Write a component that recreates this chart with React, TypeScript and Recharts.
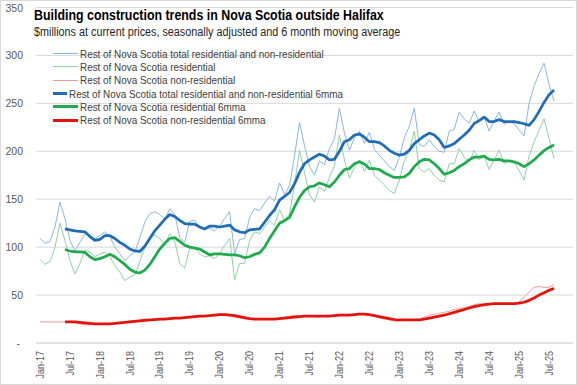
import { LineChart, Line, XAxis, YAxis, CartesianGrid, Legend } from "recharts";

// monthly, Jan-17 .. Aug-25 (index 0..103)
const tickLabels = [
  "Jan-17", "Jul-17", "Jan-18", "Jul-18", "Jan-19", "Jul-19", "Jan-20", "Jul-20", "Jan-21",
  "Jul-21", "Jan-22", "Jul-22", "Jan-23", "Jul-23", "Jan-24", "Jul-24", "Jan-25", "Jul-25",
];
const xTicks = tickLabels.map((_, k) => k * 6);
const yTicks = [0, 50, 100, 150, 200, 250, 300, 350];

const total = [
  109, 104, 106, 121, 147, 130, 107, 96, 105, 114, 112, 109,
  112, 116, 111, 100, 93, 86, 91, 95, 110, 126, 135, 137,
  134, 129, 140, 134, 110, 105, 127, 128, 120, 118, 120, 117,
  122, 130, 137, 93, 108, 109, 131, 140, 138, 146, 153, 148,
  167, 155, 164, 195, 230, 206, 184, 175, 190, 186, 203, 213,
  245, 219, 201, 214, 221, 208, 220, 202, 196, 190, 184, 180,
  194, 214, 226, 245, 207, 205, 212, 205, 200, 199, 221, 223,
  241, 234, 229, 242, 231, 236, 221, 232, 241, 228, 231, 229,
  222, 216, 250, 268, 281, 292, 270, 252,
];

const residential = [
  87, 82, 85, 100, 125, 107, 86, 72, 83, 97, 95, 90,
  93, 95, 90, 81, 74, 65, 69, 71, 85, 100, 109, 113,
  109, 102, 114, 106, 83, 78, 99, 100, 93, 90, 91, 88,
  93, 102, 109, 66, 83, 83, 107, 116, 114, 121, 128, 123,
  139, 128, 135, 165, 201, 178, 155, 147, 163, 158, 173, 185,
  217, 191, 172, 183, 191, 179, 191, 175, 170, 165, 159, 156,
  170, 190, 201, 221, 182, 178, 182, 175, 170, 168, 187, 187,
  203, 194, 189, 201, 191, 195, 181, 191, 201, 187, 190, 188,
  180, 170, 195, 210, 222, 234, 213, 192,
];

const nonResidential = [
  22, 22, 22, 22, 22, 22, 22, 21, 20, 19, 19, 20,
  20, 20, 20, 21, 21, 22, 23, 23, 24, 25, 25, 25,
  25, 25, 25, 26, 26, 26, 27, 27, 28, 28, 29, 29,
  30, 30, 29, 27, 26, 25, 25, 25, 25, 25, 25, 25,
  26, 27, 28, 29, 28, 28, 28, 28, 27, 28, 29, 29,
  29, 29, 29, 30, 31, 30, 29, 28, 26, 25, 24, 23,
  23, 24, 24, 24, 25, 27, 29, 30, 31, 32, 33, 35,
  36, 37, 38, 40, 41, 40, 40, 41, 41, 42, 41, 41,
  43, 48, 53, 58, 59, 58, 58, 61,
];

const total6mma = [
  null, null, null, null, null, 119, 118, 117, 116.5, 116, 111, 107,
  108, 112, 112, 109, 105, 102, 98, 96, 95.5, 101, 109, 117,
  123, 129, 134, 132, 128, 124.5, 124, 124, 121, 119, 122, 122,
  121, 122, 123, 118, 116, 115, 118, 118.5, 119, 126, 133, 139,
  149, 153, 157, 166, 178, 187, 191, 194, 197, 195, 191, 191.6,
  200, 210, 212, 217, 218, 214.7, 210, 210, 209, 205.6, 201, 198,
  196, 197, 201, 208, 212, 216, 219, 217, 212, 204, 205.6, 208,
  212.6, 217, 222, 229, 232, 235.7, 231, 231, 233, 231, 231, 231,
  230, 228.7, 227, 233, 241.6, 251, 259, 264,
];

const residential6mma = [
  null, null, null, null, null, 97.5, 96, 95, 95, 94.5, 90, 87,
  88, 90, 92.5, 90, 86, 82, 77, 74, 73, 76, 82, 90,
  98, 104, 109, 110, 106, 102, 100, 99, 98, 95, 92, 93,
  93, 92.5, 92, 92, 91, 89, 90, 92.5, 94, 100, 109, 117,
  125, 127.6, 131, 142, 152, 159, 163, 164, 167, 165, 163, 168,
  175, 181, 182, 187, 189, 186.7, 182, 182, 181, 177.6, 175, 172.7,
  172.7, 173.4, 177, 184, 189, 191.6, 191, 187, 182, 176, 177.6, 180,
  184, 187, 191, 194, 194, 195, 191.6, 191, 191.6, 190, 190, 189,
  187, 184, 187, 191, 196, 200.7, 204, 206.6,
];

const nonResidential6mma = [
  null, null, null, null, null, 22, 22, 22, 21.5, 21, 20.5, 20,
  20, 20, 20, 20.5, 21, 21.5, 22, 22.5, 23, 23.5, 24, 24.5,
  25, 25, 25.5, 26, 26, 26.5, 27, 27.5, 28, 28, 28.5, 29,
  29.5, 29.5, 29, 28.5, 27.5, 26.5, 25.5, 25, 25, 25, 25, 25,
  25.5, 26, 26.5, 27, 27.5, 28, 28, 28, 28, 28, 28, 28.5,
  29, 29, 29, 29.5, 30, 30, 29.5, 28.5, 27.5, 26.5, 25.5, 24.5,
  24, 24, 24, 24, 24, 25, 26, 27, 28, 29, 30.5, 32,
  33.5, 35, 36.5, 38, 39, 40, 40.5, 41, 41, 41, 41, 41,
  41.5, 42.5, 44.5, 47, 50, 52.5, 55, 57,
];

const series = [
  { key: "total", name: "Rest of Nova Scotia total residential and non-residential", color: "#8ab6e0", width: 1 },
  { key: "res", name: "Rest of Nova Scotia residential", color: "#8ed3a2", width: 1 },
  { key: "nonres", name: "Rest of Nova Scotia non-residential", color: "#f29a9a", width: 1 },
  { key: "total6", name: "Rest of Nova Scotia total residential and non-residential 6mma", color: "#1f6db8", width: 2.75 },
  { key: "res6", name: "Rest of Nova Scotia residential 6mma", color: "#1faa4e", width: 2.75 },
  { key: "nonres6", name: "Rest of Nova Scotia non-residential 6mma", color: "#e3120b", width: 2.75 },
];

const data = total.map((v, i) => ({
  i,
  total: v,
  res: residential[i],
  nonres: nonResidential[i],
  total6: total6mma[i],
  res6: residential6mma[i],
  nonres6: nonResidential6mma[i],
}));

const FONT = "'Liberation Sans', Arial, sans-serif";

const XTick = (props: any) => {
  const { x, y, payload } = props;
  return (
    <text
      transform={`translate(${x},${y}) rotate(-90) scale(0.9,1)`}
      textAnchor="end"
      dominantBaseline="central"
      fontSize={10}
      fill="#595959"
      fontFamily={FONT}
    >
      {tickLabels[payload.value / 6]}
    </text>
  );
};

const YTick = (props: any) => {
  const { x, y, payload } = props;
  const zero = payload.value === 0;
  return (
    <text
      x={zero ? x - 3 : x}
      y={y}
      textAnchor="end"
      dominantBaseline="central"
      fontSize={10.5}
      fill="#595959"
      fontFamily={FONT}
    >
      {zero ? "-" : payload.value}
    </text>
  );
};

// legend rows kept in the series order (recharts would sort them)
const renderLegend = () => (
  <div style={{ fontFamily: FONT }}>
    {series.map((s) => (
      <div key={s.key} style={{ display: "flex", alignItems: "center", height: 13.3 }}>
        <div style={{ width: 25, height: s.width > 1 ? 3 : 1, background: s.color }} />
        <span
          style={{
            display: "inline-block",
            marginLeft: 2,
            fontSize: 11,
            color: "#404040",
            whiteSpace: "nowrap",
            transform: "scaleX(0.9)",
            transformOrigin: "left center",
          }}
        >
          {s.name}
        </span>
      </div>
    ))}
  </div>
);

export default function App() {
  return (
    <div style={{ position: "absolute", left: 0, top: 0, width: 577, height: 385, background: "#fff" }}>
      <LineChart width={577} height={385} data={data} margin={{ top: 7.5, right: 4, bottom: 0, left: 0 }}>
        <CartesianGrid vertical={false} stroke="#d9d9d9" />
        <XAxis
          dataKey="i"
          type="number"
          domain={[-0.8, 106.8]}
          allowDataOverflow
          ticks={xTicks}
          interval={0}
          height={42}
          tick={<XTick />}
          tickLine={false}
          axisLine={{ stroke: "#d9d9d9" }}
        />
        <YAxis
          width={36}
          domain={[0, 350]}
          ticks={yTicks}
          interval={0}
          tick={<YTick />}
          tickLine={false}
          axisLine={false}
          tickMargin={7}
        />
        <Legend
          layout="vertical"
          align="center"
          verticalAlign="middle"
          content={renderLegend}
          wrapperStyle={{ position: "absolute", left: 53, top: 47, width: 320, height: 80 }}
        />
        {series.map((s) => (
          <Line
            key={s.key}
            dataKey={s.key}
            name={s.name}
            stroke={s.color}
            strokeWidth={s.width}
            dot={false}
            activeDot={false}
            type="linear"
            strokeLinejoin="round"
            isAnimationActive={false}
          />
        ))}
      </LineChart>
      <div
        style={{
          position: "absolute",
          left: 34,
          top: 7,
          fontFamily: FONT,
          fontWeight: "bold",
          fontSize: 14,
          lineHeight: "16px",
          color: "#000",
          whiteSpace: "nowrap",
          transform: "scaleX(0.885)",
          transformOrigin: "left center",
        }}
      >
        Building construction trends in Nova Scotia outside Halifax
      </div>
      <div
        style={{
          position: "absolute",
          left: 34,
          top: 25,
          fontFamily: FONT,
          fontSize: 12,
          lineHeight: "14px",
          color: "#262626",
          whiteSpace: "nowrap",
          transform: "scaleX(0.9)",
          transformOrigin: "left center",
        }}
      >
        $millions at current prices, seasonally adjusted and 6 month moving average
      </div>
      <div
        style={{
          position: "absolute",
          left: 0,
          top: 0,
          width: 575,
          height: 383,
          border: "1px solid #d9d9d9",
          pointerEvents: "none",
        }}
      />
    </div>
  );
}
